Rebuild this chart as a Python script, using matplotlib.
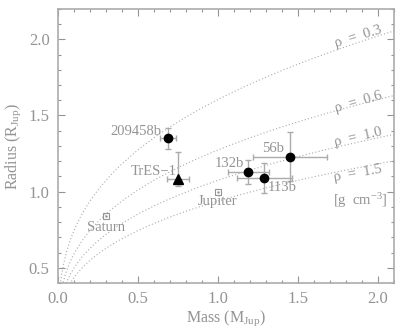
import numpy as np
import matplotlib
matplotlib.use("Agg")
import matplotlib.pyplot as plt
from matplotlib.ticker import MultipleLocator

plt.rcParams['font.family'] = ['Liberation Serif', 'DejaVu Serif']
plt.rcParams['mathtext.fontset'] = 'custom'
plt.rcParams['mathtext.rm'] = 'Liberation Serif'
plt.rcParams['mathtext.it'] = 'Liberation Serif:italic'

# transiting planets (mass, radius in Jupiter units)
names = ["209458b", "132b", "113b", "56b"]
mass = [0.69, 1.19, 1.29, 1.45]
mass_err = [0.05, 0.13, 0.17, 0.23]
radius = [1.35, 1.13, 1.09, 1.23]
radius_err = [0.07, 0.08, 0.10, 0.16]

tres_mass, tres_mass_err = 0.75, 0.07
tres_radius, tres_rad_lo, tres_rad_hi = 1.08, 0.04, 0.18

solar_names = ["Saturn", "Jupiter"]
solar_mass = [0.30, 1.00]
solar_radius = [0.84, 1.00]

densities = [0.3, 0.6, 1.0, 1.5]   # g cm^-3
rho_jup = 1.24                     # density of Jupiter, g cm^-3

grey = "#939393"
light = "#ababab"

fig = plt.figure(figsize=(4.0, 3.28), dpi=100)
ax = fig.add_axes([0.145, 0.137, 0.84, 0.836])

# iso-density curves
m = np.linspace(0.0005, 2.1, 400)
rot = [17, 16, 13, 10]
lab_off = [0.04, 0.015, 0.035, -0.035]
for rho, r, off in zip(densities, rot, lab_off):
    ax.plot(m, (m * rho_jup / rho) ** (1 / 3), ls=(0, (1, 2)), color=light, lw=0.8)
    yl = (1.875 * rho_jup / rho) ** (1 / 3) + off
    ax.text(1.875, yl, "ρ  =  %.1f" % rho, rotation=r, color=grey, fontsize=10.5,
            ha="center", va="center")
ax.text(1.89, 0.94, "[g  cm$^{-3}$]", color=grey, fontsize=10.5, ha="center", va="center")

# error bars and markers
ax.errorbar(mass, radius, xerr=mass_err, yerr=radius_err, fmt="o", color="black",
            ms=6, ecolor=light, elinewidth=1, capsize=2, zorder=3)
ax.errorbar([tres_mass], [tres_radius], xerr=tres_mass_err,
            yerr=[[tres_rad_lo], [tres_rad_hi]], fmt="^", color="black", ms=7,
            ecolor=light, elinewidth=1, capsize=2, zorder=3)
ax.plot(solar_mass, solar_radius, "s", mfc="none", mec=grey, ms=5, mew=0.8)
ax.plot(solar_mass, solar_radius, ".", color=grey, ms=1.5)

# labels
kw = dict(color=grey, fontsize=10.5)
ax.text(0.645, 1.395, names[0], ha="right", va="center", **kw)
ax.text(1.165, 1.185, names[1], ha="right", va="center", **kw)
ax.text(1.31, 1.03, names[2], ha="left", va="center", **kw)
ax.text(1.41, 1.285, names[3], ha="right", va="center", **kw)
ax.text(0.74, 1.135, "TrES−1", ha="right", va="center", **kw)
ax.text(solar_mass[0], solar_radius[0] - 0.075, solar_names[0], ha="center", va="center", **kw)
ax.text(solar_mass[1], solar_radius[1] - 0.065, solar_names[1], ha="center", va="center", **kw)

ax.set_xlim(0, 2.1)
ax.set_ylim(0.4, 2.2)
ax.xaxis.set_major_locator(MultipleLocator(0.5))
ax.xaxis.set_minor_locator(MultipleLocator(0.1))
ax.yaxis.set_major_locator(MultipleLocator(0.5))
ax.yaxis.set_minor_locator(MultipleLocator(0.1))
ax.tick_params(which="both", direction="in", top=True, right=True, colors=grey,
               labelsize=12, width=0.8)
ax.tick_params(which="major", length=5, pad=6)
ax.tick_params(which="minor", length=2.5)
for s in ax.spines.values():
    s.set_color(light)
    s.set_linewidth(1.2)

ax.set_xlabel("Mass (M$_{\\rm Jup}$)", color=grey, fontsize=11.5, labelpad=1)
ax.set_ylabel("Radius (R$_{\\rm Jup}$)", color=grey, fontsize=11.5, labelpad=4)

fig.savefig("out.png", dpi=100)
